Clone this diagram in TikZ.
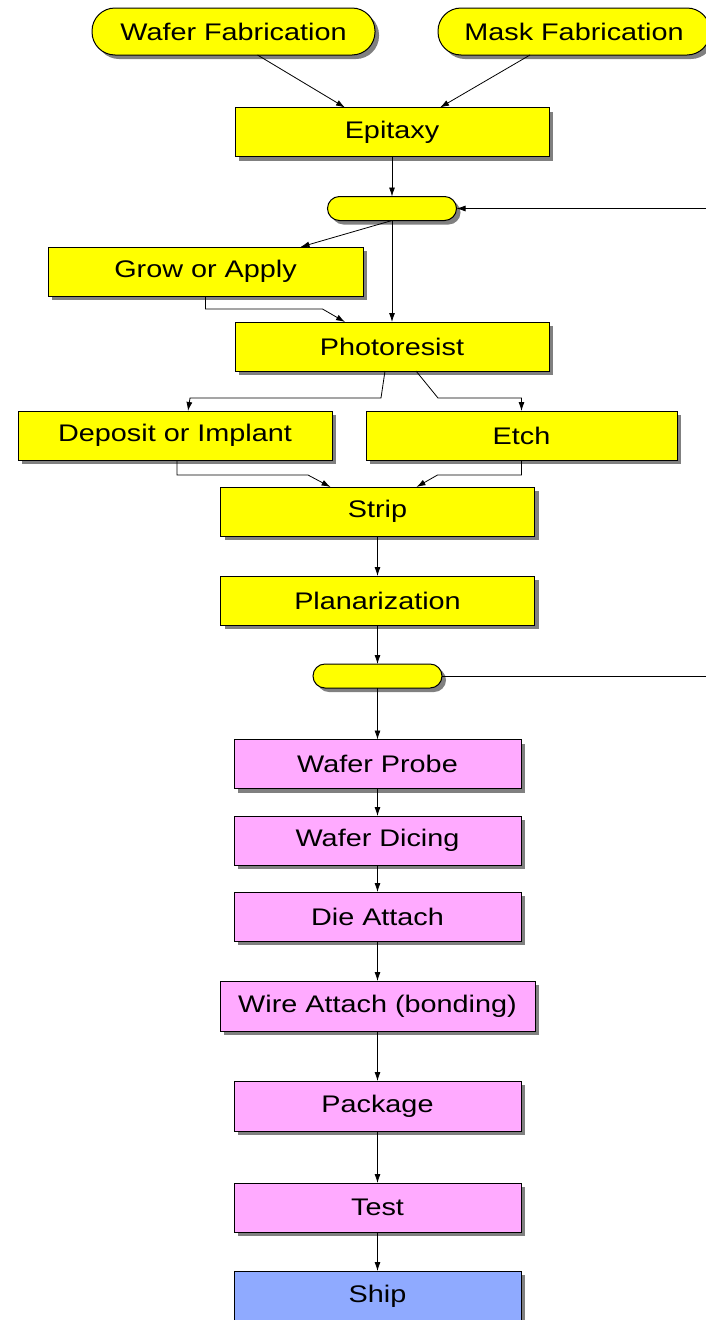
\documentclass[tikz,border=0pt]{standalone}
\usepackage{fontspec}
\setmainfont[FakeStretch=1.2]{Liberation Sans}
\usepackage{tikz}
\usetikzlibrary{shadows, arrows.meta}

\definecolor{stepyellow}{RGB}{255,255,0}
\definecolor{backpink}{RGB}{255,170,255}
\definecolor{shipblue}{RGB}{143,170,255}

\tikzset{
  boxbase/.style={draw=black, line width=1pt, inner sep=0pt, outer sep=0pt,
    font=\fontsize{24}{28}\selectfont,
    drop shadow={shadow xshift=4pt, shadow yshift=-4pt, fill=black!50, opacity=1}},
  stepbox/.style={boxbase, rectangle, fill=stepyellow, minimum width=314pt, minimum height=49pt},
  backbox/.style={boxbase, rectangle, fill=backpink, minimum width=287pt, minimum height=49pt},
  shipbox/.style={boxbase, rectangle, fill=shipblue, minimum width=287pt, minimum height=50pt},
  pill/.style={boxbase, rectangle, rounded corners=23pt, fill=stepyellow, minimum height=47pt},
  joint/.style={boxbase, rectangle, rounded corners=12pt, fill=stepyellow, minimum width=129pt, minimum height=24pt},
  flow/.style={->, line width=0.8pt, >={Latex[length=9pt,width=6pt]}}
}

\begin{document}
\begin{tikzpicture}[x=1pt, y=-1pt]
  \useasboundingbox (0,0) rectangle (706,1320);
  % sources
  \node[pill, minimum width=283pt] (wafer) at (233.5,31.5) {Wafer Fabrication};
  \node[pill, minimum width=272pt] (mask) at (574,31.5) {Mask Fabrication};
  % front end
  \node[stepbox] (epitaxy) at (392,132) {Epitaxy};
  \node[joint] (loopa) at (392,208.5) {};
  \node[stepbox, minimum width=315pt] (grow) at (205.5,271.5) {Grow or Apply};
  \node[stepbox] (photo) at (392,346.5) {Photoresist};
  \node[stepbox] (deposit) at (175,435.5) {Deposit or Implant};
  \node[stepbox, minimum width=311pt] (etch) at (521.5,435.5) {Etch};
  \node[stepbox] (strip) at (377.5,511.5) {Strip};
  \node[stepbox] (plan) at (377.5,600.5) {Planarization};
  \node[joint] (loopb) at (377.5,676) {};
  \coordinate (backa) at (706,208.5);
  \coordinate (backb) at (706,676);
  % back end
  \node[backbox] (probe) at (377.5,764) {Wafer Probe};
  \node[backbox] (dicing) at (377.5,840.5) {Wafer Dicing};
  \node[backbox] (attach) at (377.5,916.5) {Die Attach};
  \node[backbox, minimum width=315pt, minimum height=50pt] (wire) at (377.5,1006) {Wire Attach (bonding)};
  \node[backbox, minimum height=50pt] (package) at (377.5,1106) {Package};
  \node[backbox] (test) at (377.5,1207.5) {Test};
  \node[shipbox] (ship) at (377.5,1296) {Ship};

  \draw[flow] ([xshift=24pt]wafer.south) -- ([xshift=-47pt]epitaxy.north);
  \draw[flow] ([xshift=-44pt]mask.south) -- ([xshift=48pt]epitaxy.north);
  \draw[flow] (epitaxy.south) -- (loopa.north);
  \draw[flow] (backa) -- (loopa.east);
  \draw[flow] (loopa.south) -- ([xshift=95pt]grow.north);
  \draw[flow] (loopa.south) -- (photo.north);
  \draw[flow] (grow.south) -- ++(0,13) -- ++(117,0) -- ([xshift=-47pt]photo.north);
  \draw[flow] ([xshift=-7pt]photo.south) -- ++(-4,27) -- ++(-191,0) -- ([xshift=13pt]deposit.north);
  \draw[flow] ([xshift=24pt]photo.south) -- ++(22,27) -| (etch.north);
  \draw[flow] ([xshift=2pt]deposit.south) -- ++(0,15) -- ++(131,0) -- ([xshift=-47pt]strip.north);
  \draw[flow] (etch.south) -- ++(0,15) -- ++(-84,0) -- ([xshift=39pt]strip.north);
  \draw[flow] (strip) -- (plan);
  \draw[flow] (plan) -- (loopb);
  \draw[line width=0.8pt] (loopb.east) -- (backb);
  \draw[flow] (loopb) -- (probe);
  \foreach \a/\b in {probe/dicing, dicing/attach, attach/wire, wire/package, package/test, test/ship}
    \draw[flow] (\a) -- (\b);
\end{tikzpicture}
\end{document}
